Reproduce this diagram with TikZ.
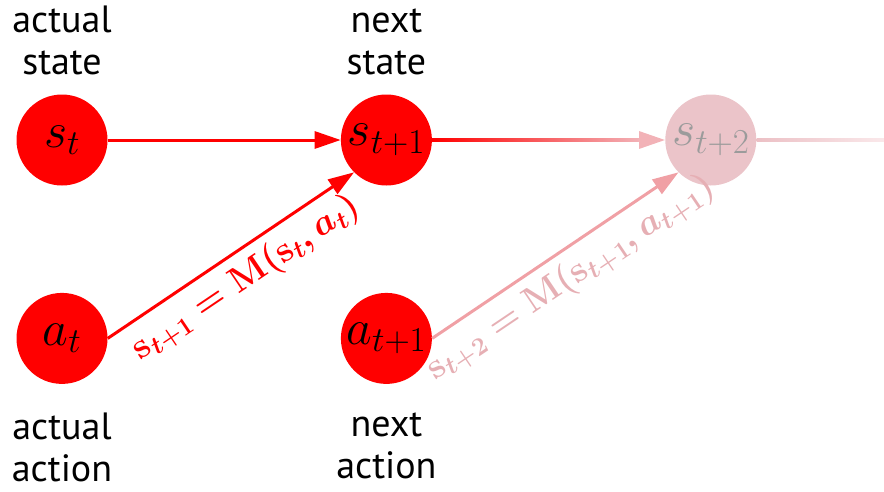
\RequirePackage{fix-cm}
\documentclass[tikz,border=0pt]{standalone}
\usepackage{amsmath}
\usepackage{fontspec}
\setmainfont{PT Sans}
\usepackage{xcolor}
\usetikzlibrary{arrows.meta, positioning, calc}

\definecolor{fadenode}{RGB}{235,196,201}
\definecolor{fadetext}{RGB}{155,155,155}
\definecolor{fadearrow}{RGB}{240,160,165}
\definecolor{fadehead}{RGB}{242,178,183}
\definecolor{fadelabel}{RGB}{230,175,180}
\definecolor{tailstart}{RGB}{236,192,197}
\definecolor{tailend}{RGB}{250,232,234}

\begin{document}
\begin{tikzpicture}[
  x=1pt, y=-1pt, >={Triangle[length=26pt, width=17pt]},
  node distance=107pt and 233pt,
  var/.style={circle, fill=red, minimum size=91pt, inner sep=0pt,
              font=\fontsize{50}{50}\selectfont},
  future/.style={var, fill=fadenode, text=fadetext},
  caption/.style={align=center, inner sep=0pt, font=\fontsize{38}{42}\selectfont},
  model/.style={sloped, below, inner sep=8pt, font=\fontsize{36}{36}\selectfont\boldmath},
  link/.style={line width=3pt}]
  \useasboundingbox (0,0) rectangle (884,491);

  % states and actions
  \node[var] (st) at (62,140) {$s_t$};
  \node[var, right=of st] (st1) {$s_{t+1}$};
  \node[future, right=of st1] (st2) {$s_{t+2}$};
  \node[var, below=of st] (at) {$a_t$};
  \node[var, right=of at] (at1) {$a_{t+1}$};
  \coordinate (edge) at (884,140);

  % captions
  \node[caption, above=19pt of st] {actual\\state};
  \node[caption, above=19pt of st1] {next\\state};
  \node[caption, below=29pt of at] {actual\\action};
  \node[caption, below=29pt of at1] {next\\action};

  % transitions
  \draw[link, red, ->] (st) -- (st1);
  \shade[left color=red, right color=fadehead]
    ($(st1.east)+(0,-1.5)$) rectangle ($(st2.west)+(-25,1.5)$);
  \draw[link, fadehead, ->] ($(st2.west)+(-27,0)$) -- (st2.west);
  \shade[left color=tailstart, right color=tailend]
    ($(st2.east)+(0,-1.5)$) rectangle ($(edge)+(0,1.5)$);

  \draw[link, red, ->] (at.east) -- node[model, red]
    {$\mathbf{s}_{t+1}=\mathbf{M}(\mathbf{s}_t,a_t)$} (st1.south west);
  \draw[link, fadearrow, ->] (at1.east) -- node[model, fadelabel]
    {$\mathbf{s}_{t+2}=\mathbf{M}(\mathbf{s}_{t+1},a_{t+1})$} (st2.south west);
\end{tikzpicture}
\end{document}
